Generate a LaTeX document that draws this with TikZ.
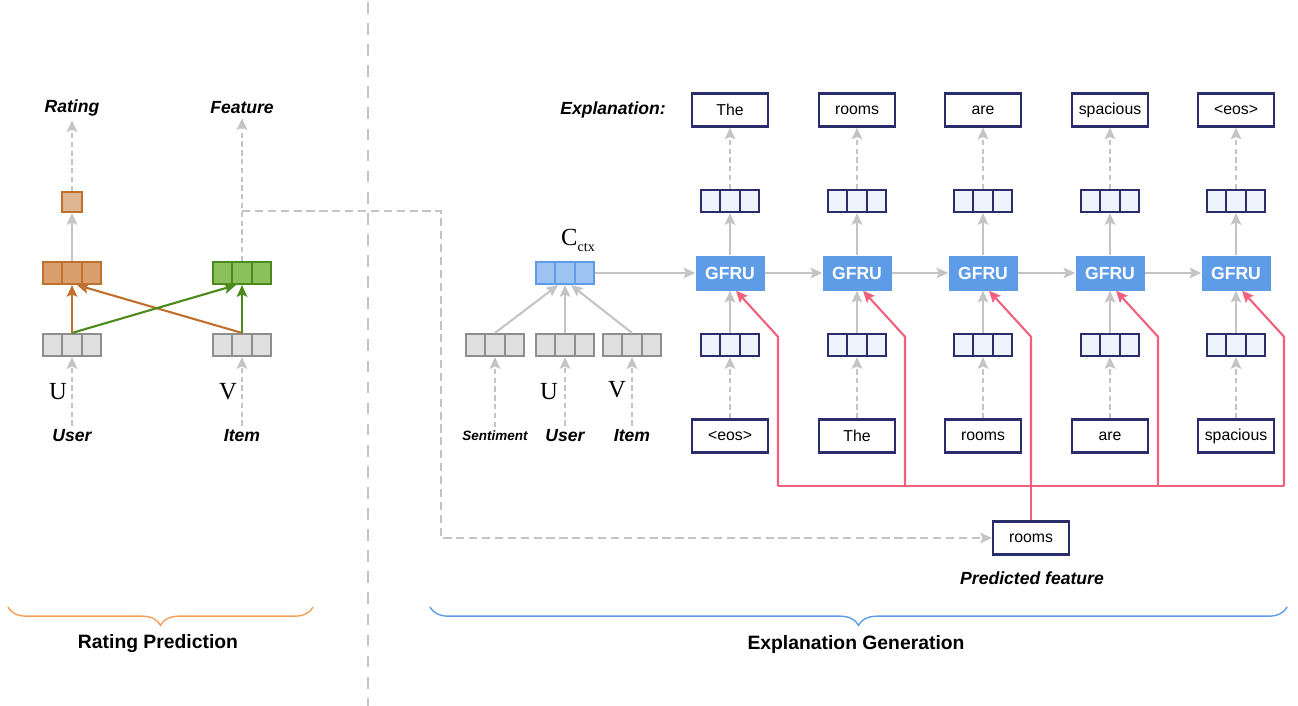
\documentclass[tikz,border=0pt]{standalone}
\usepackage[no-math]{fontspec}
\setmainfont{Liberation Sans}
\newfontfamily\timesfont{Liberation Serif}
\usetikzlibrary{arrows.meta, positioning, calc, decorations.pathreplacing}

\definecolor{linegray}{HTML}{C4C4C4}
\definecolor{graydark}{HTML}{8E8E8E}
\definecolor{grayfill}{HTML}{E0E0E0}
\definecolor{orangedark}{HTML}{C0702E}
\definecolor{orangefill}{HTML}{D9A06E}
\definecolor{orangelight}{HTML}{DDB592}
\definecolor{greendark}{HTML}{4B8A1B}
\definecolor{greenfill}{HTML}{8CC05C}
\definecolor{ctxdark}{HTML}{5E9CE8}
\definecolor{ctxfill}{HTML}{9DC3F2}
\definecolor{gfrublue}{HTML}{5E9CE8}
\definecolor{navy}{HTML}{2B2C6B}
\definecolor{cellblue}{HTML}{EEF4FC}
\definecolor{pinkred}{HTML}{F2607D}
\definecolor{braceorange}{HTML}{F5A05A}
\definecolor{braceblue}{HTML}{5E9CE8}

\tikzset{
    vecbox/.style = {
        draw = #1, line width = 1.8pt,
        minimum width = 1.74cm, minimum height = 0.66cm, inner sep = 0pt,
        path picture = {
            \foreach \f in {0.3333, 0.6667}
                \draw[#1, line width = 1.8pt]
                    ($(path picture bounding box.north west)!\f!(path picture bounding box.north east)$) --
                    ($(path picture bounding box.south west)!\f!(path picture bounding box.south east)$);
        }
    },
    word/.style = {
        draw = navy, line width = 1.8pt,
        minimum width = 2.28cm, minimum height = 0.99cm,
        font = \fontsize{13.5}{15}\selectfont
    },
    gfru/.style = {
        fill = gfrublue, minimum width = 2.07cm, minimum height = 1.05cm,
        text = white, font = \fontsize{15}{17}\selectfont\bfseries
    },
    tag/.style = {font = \fontsize{15}{17}\selectfont\bfseries\itshape},
    letter/.style = {font = \fontsize{21}{23}\timesfont},
    section/.style = {font = \fontsize{16.5}{19}\selectfont\bfseries}
}

\begin{document}
\begin{tikzpicture}[
            x = 0.03cm, y = -0.03cm, % one unit is one pixel of the layout
            > = {Stealth[length = 10pt, width = 9pt, inset = 2pt]}, % arrow head style
            arr/.style = {->, draw = linegray, line width = 1.8pt},
            dasharr/.style = {->, draw = linegray, line width = 1.8pt, dash pattern = on 4.5pt off 3pt},
            longdash/.style = {draw = linegray, line width = 1.8pt, dash pattern = on 7pt off 4pt},
            pinkarr/.style = {->, draw = pinkred, line width = 1.8pt},
            pinkline/.style = {draw = pinkred, line width = 1.8pt}
        ]
        \useasboundingbox (0,0) rectangle (1298,706);

        % rating prediction
        \node[tag] (rating) at (72,108) {Rating};
        \node[tag] (feature) at (242,108) {Feature};
        \node[draw = orangedark, fill = orangelight, line width = 1.8pt, minimum size = 0.6cm, inner sep = 0pt] (rsq) at (72,202) {};
        \node[vecbox = orangedark, fill = orangefill] (rvec) at (72,273) {};
        \node[vecbox = greendark, fill = greenfill] (fvec) at (242,273) {};
        \node[vecbox = graydark, fill = grayfill] (uvec) at (72,345) {};
        \node[vecbox = graydark, fill = grayfill] (ivec) at (242,345) {};
        \node[letter] (ulet) at (58,392) {U};
        \node[letter] (vlet) at (228,392) {V};
        \node[tag] (user) at (72,436) {User};
        \node[tag] (item) at (242,436) {Item};

        \draw[dasharr] (user) -- (uvec);
        \draw[dasharr] (item) -- (ivec);
        \draw[arr] (rvec) -- (rsq);
        \draw[dasharr] (rsq) -- (rating);
        \draw[dasharr] (fvec) -- (feature);
        \draw[->, orangedark, line width = 1.8pt] (ivec.north) -- ($(rvec.south)+(5,0)$);
        \draw[->, greendark, line width = 1.8pt] (uvec.north) -- ($(fvec.south)+(-6,0)$);
        \draw[->, orangedark, line width = 1.8pt] (uvec.north) -- (rvec.south);
        \draw[->, greendark, line width = 1.8pt] (ivec.north) -- (fvec.south);

        % separator
        \draw[linegray, line width = 2.5pt, dash pattern = on 10pt off 8pt] (368,2) -- (368,706);

        % context
        \node[letter] (ctxlab) at (578,240) {C\raisebox{-5pt}{\fontsize{12}{12}\selectfont ctx}};
        \node[vecbox = ctxdark, fill = ctxfill] (ctx) at (565,273) {};
        \node[vecbox = graydark, fill = grayfill] (svec) at (495,345) {};
        \node[vecbox = graydark, fill = grayfill] (cuvec) at (565,345) {};
        \node[vecbox = graydark, fill = grayfill] (civec) at (632,345) {};
        \node[letter] (culet) at (549,392) {U};
        \node[letter] (cvlet) at (617,390) {V};
        \node[tag, font = \fontsize{11.5}{13}\selectfont\bfseries\itshape] (sent) at (495,436) {Sentiment};
        \node[tag] (cuser) at (565,436) {User};
        \node[tag] (citem) at (632,436) {Item};

        \draw[dasharr] (sent) -- (svec);
        \draw[dasharr] (cuser) -- (cuvec);
        \draw[dasharr] (citem) -- (civec);
        \draw[arr] (svec.north) -- ($(ctx.south)+(-7,0)$);
        \draw[arr] (cuvec.north) -- (ctx.south);
        \draw[arr] (civec.north) -- ($(ctx.south)+(6,0)$);

        % explanation generation
        \node[tag] (expl) at (613,110) {Explanation:};
        \foreach \i/\x/\win/\wout in {1/730/<eos>/The, 2/857/The/rooms, 3/983/rooms/are,
                                      4/1110/are/spacious, 5/1236/spacious/<eos>} {
            \node[gfru] (g\i) at (\x,273) {GFRU};
            \node[vecbox = navy, fill = cellblue] (h\i) at (\x,201) {};
            \node[vecbox = navy, fill = cellblue] (e\i) at (\x,345) {};
            \node[word] (o\i) at (\x,110) {\wout};
            \node[word] (w\i) at (\x,436) {\win};
            \draw[arr] (g\i) -- (h\i);
            \draw[dasharr] (h\i) -- (o\i);
            \draw[arr] (e\i) -- (g\i);
            \draw[dasharr] (w\i) -- (e\i);
        }
        \draw[arr] (ctx) -- (g1);
        \foreach \a/\b in {1/2, 2/3, 3/4, 4/5}
            \draw[arr] (g\a) -- (g\b);

        % predicted feature
        \node[word] (pred) at (1031,538) {rooms};
        \node[tag] (predlab) at (1032,578) {Predicted feature};
        \coordinate (fb) at (242,211);
        \coordinate (turn) at (441,538);
        \draw[longdash, ->] (fb) -| (turn) -- (pred);

        \coordinate (bus) at (1031,486);
        \foreach \i in {1,...,5} {
            \coordinate (k\i) at ($(g\i.south)+(48,46)$);
            \draw[pinkarr] (k\i |- bus) -- (k\i) -- ($(g\i.south)+(6,0)$);
        }
        \draw[pinkline] (k1 |- bus) -- (k5 |- bus);
        \draw[pinkline] (pred) -- (bus);

        % braces
        \draw[braceorange, line width = 1.2pt, decorate, decoration = {brace, mirror, amplitude = 0.55cm}] (8,607) -- (313,607);
        \draw[braceblue, line width = 1.2pt, decorate, decoration = {brace, mirror, amplitude = 0.55cm}] (430,607) -- (1287,607);
        \node[section] (rp) at (158,644) {Rating Prediction};
        \node[section] (eg) at (856,644) {Explanation Generation};
    \end{tikzpicture}
\end{document}
